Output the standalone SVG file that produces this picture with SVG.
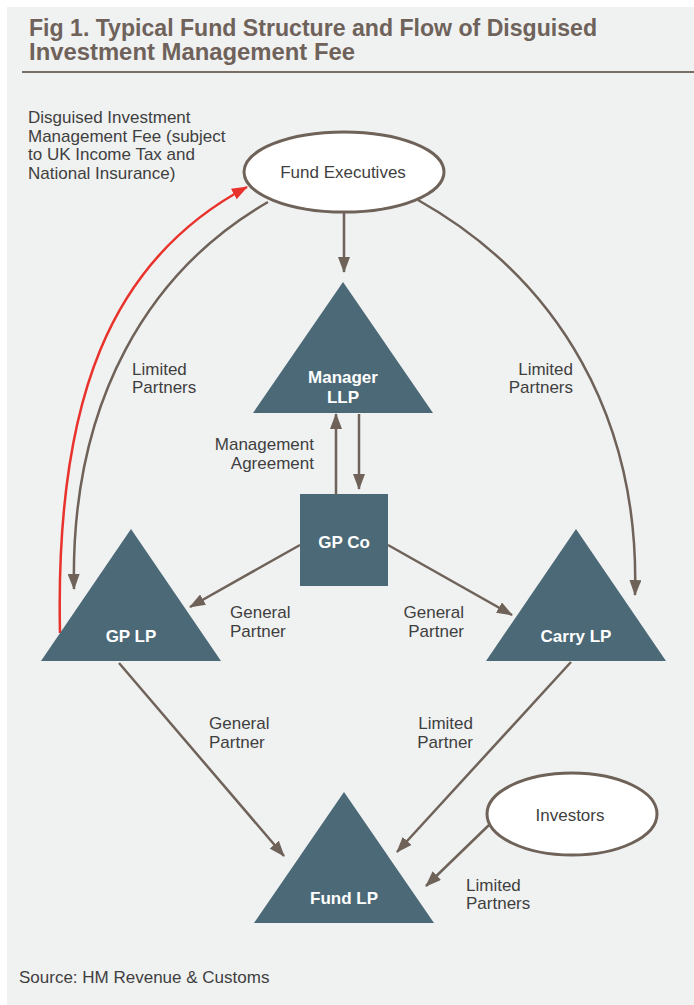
<svg xmlns="http://www.w3.org/2000/svg" width="694" height="1005" viewBox="0 0 694 1005">
<style>
.title{font-family:"Liberation Sans",Arial,sans-serif;font-weight:bold;font-size:23.5px;fill:#6e625a}
.lbl{font-family:"Liberation Sans",Arial,sans-serif;font-size:17px;fill:#3f3f3f}
.nd{font-family:"Liberation Sans",Arial,sans-serif;font-weight:bold;font-size:17px;fill:#ffffff;text-anchor:middle}
.tri{fill:#4b6977}
.ell{fill:#ffffff;stroke:#6e6259;stroke-width:3}
.con{fill:none;stroke:#6e6259;stroke-width:2.5;marker-end:url(#ah)}
.red{fill:none;stroke:#e8322b;stroke-width:2.5;marker-end:url(#ahr)}
</style>
<defs>
<marker id="ah" viewBox="0 0 16 12" refX="15" refY="6" markerWidth="16" markerHeight="12" markerUnits="userSpaceOnUse" orient="auto"><path d="M0,0 L16,6 L0,12 z" fill="#6e6259"/></marker>
<marker id="ahr" viewBox="0 0 16 12" refX="15" refY="6" markerWidth="16" markerHeight="12" markerUnits="userSpaceOnUse" orient="auto"><path d="M0,0 L16,6 L0,12 z" fill="#e8322b"/></marker>
</defs>
<rect x="0" y="0" width="694" height="1005" fill="#ffffff"/>
<rect x="7" y="7" width="687" height="998" fill="#f0f1f1"/>
<g id="title">
<text class="title" x="29" y="36" textLength="568" lengthAdjust="spacingAndGlyphs">Fig 1. Typical Fund Structure and Flow of Disguised</text>
<text class="title" x="29" y="60" textLength="326" lengthAdjust="spacingAndGlyphs">Investment Management Fee</text>
<line x1="22" y1="72" x2="694" y2="72" stroke="#7a6e64" stroke-width="2"/>
</g>
<g id="connectors">
<line class="con" x1="344" y1="213" x2="344" y2="272"/>
<line class="con" x1="336" y1="494" x2="336" y2="414"/>
<line class="con" x1="359" y1="414" x2="359" y2="489"/>
<line class="con" x1="300" y1="545" x2="190" y2="607"/>
<line class="con" x1="388" y1="545" x2="512" y2="615"/>
<line class="con" x1="119" y1="663" x2="284" y2="856"/>
<line class="con" x1="571" y1="662" x2="397" y2="852"/>
<line class="con" x1="489" y1="825" x2="426" y2="886"/>
<path class="con" d="M268,202 C150,270 70,400 74,589"/>
<path class="con" d="M418,200 C560,280 640,420 635,595"/>
<path class="red" d="M60,633 C55,400 110,260 247,187"/>
</g>
<g id="fund-executives">
<ellipse class="ell" cx="344" cy="172" rx="100" ry="40"/>
<text class="lbl" x="343" y="178" text-anchor="middle">Fund Executives</text>
</g>
<g id="manager-llp">
<polygon class="tri" points="343,282 253,413 433,413"/>
<text class="nd" x="343" y="383">Manager</text>
<text class="nd" x="343" y="403">LLP</text>
</g>
<g id="gp-co">
<rect class="tri" x="300" y="494" width="88" height="92"/>
<text class="nd" x="344" y="548">GP Co</text>
</g>
<g id="gp-lp">
<polygon class="tri" points="131,529 41,661 221,661"/>
<text class="nd" x="131" y="642">GP LP</text>
</g>
<g id="carry-lp">
<polygon class="tri" points="576,529 486,661 666,661"/>
<text class="nd" x="576" y="642">Carry LP</text>
</g>
<g id="fund-lp">
<polygon class="tri" points="344,792 254,923 434,923"/>
<text class="nd" x="344" y="904">Fund LP</text>
</g>
<g id="investors">
<ellipse class="ell" cx="572" cy="814" rx="85" ry="41"/>
<text class="lbl" x="570" y="821" text-anchor="middle">Investors</text>
</g>
<g id="labels">
<text class="lbl" x="28" y="123">Disguised Investment</text>
<text class="lbl" x="28" y="142">Management Fee (subject</text>
<text class="lbl" x="28" y="160">to UK Income Tax and</text>
<text class="lbl" x="28" y="179">National Insurance)</text>
<text class="lbl" x="132" y="375">Limited</text>
<text class="lbl" x="132" y="393">Partners</text>
<text class="lbl" x="573" y="375" text-anchor="end">Limited</text>
<text class="lbl" x="573" y="393" text-anchor="end">Partners</text>
<text class="lbl" x="314" y="450" text-anchor="end">Management</text>
<text class="lbl" x="314" y="469" text-anchor="end">Agreement</text>
<text class="lbl" x="230" y="618">General</text>
<text class="lbl" x="230" y="637">Partner</text>
<text class="lbl" x="464" y="618" text-anchor="end">General</text>
<text class="lbl" x="464" y="637" text-anchor="end">Partner</text>
<text class="lbl" x="209" y="729">General</text>
<text class="lbl" x="209" y="748">Partner</text>
<text class="lbl" x="473" y="729" text-anchor="end">Limited</text>
<text class="lbl" x="473" y="748" text-anchor="end">Partner</text>
<text class="lbl" x="466" y="891">Limited</text>
<text class="lbl" x="466" y="909">Partners</text>
<text class="lbl" x="19" y="983">Source: HM Revenue &amp; Customs</text>
</g>
</svg>
